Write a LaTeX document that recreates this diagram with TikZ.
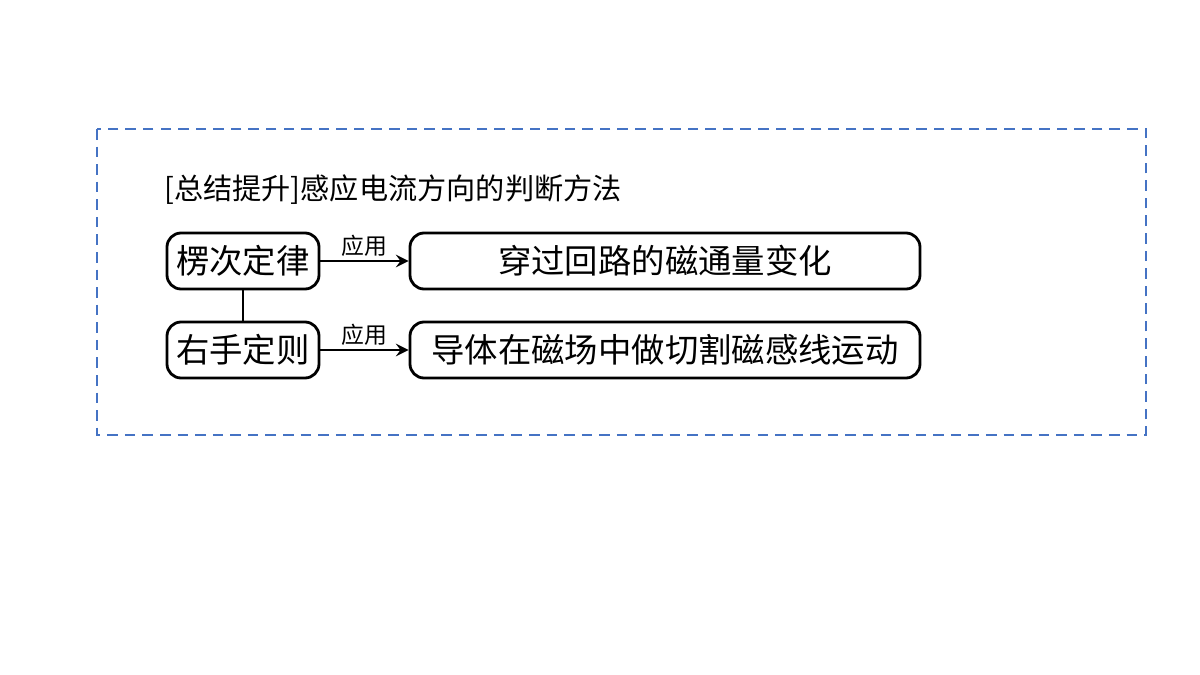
\documentclass[tikz,border=0pt]{standalone}
\usepackage{fontspec}
\setmainfont{Noto Sans CJK SC}
\usetikzlibrary{positioning}
\definecolor{framebl}{rgb}{0.27,0.45,0.77}
\tikzset{
  rule/.style={draw,rounded corners=4pt,line width=0.8pt,minimum height=0.56cm,inner sep=0pt,font=\fontsize{9.5}{10}\selectfont},
  apply/.style={-stealth,line width=0.6pt},
  lab/.style={above,font=\fontsize{6.5}{7}\selectfont,inner sep=1pt}
}
\begin{document}
\begin{tikzpicture}
\useasboundingbox (0,0) rectangle (12,-6.75);
\draw[framebl,densely dashed,line width=0.6pt] (0.97,-1.29) rectangle (11.46,-4.35);
\node[anchor=west,font=\fontsize{8.3}{9}\selectfont] (title) at (1.52,-1.90) {[总结提升]感应电流方向的判断方法};
\node[rule,minimum width=1.52cm] (lenz) at (2.43,-2.61) {楞次定律};
\node[rule,minimum width=1.52cm] (right) at (2.43,-3.50) {右手定则};
\node[rule,minimum width=5.10cm] (flux) at (6.65,-2.61) {穿过回路的磁通量变化};
\node[rule,minimum width=5.10cm] (cut) at (6.65,-3.50) {导体在磁场中做切割磁感线运动};
\draw[line width=0.6pt] (lenz) -- (right);
\draw[apply] (lenz) -- node[lab] {应用} (flux);
\draw[apply] (right) -- node[lab] {应用} (cut);
\end{tikzpicture}
\end{document}
